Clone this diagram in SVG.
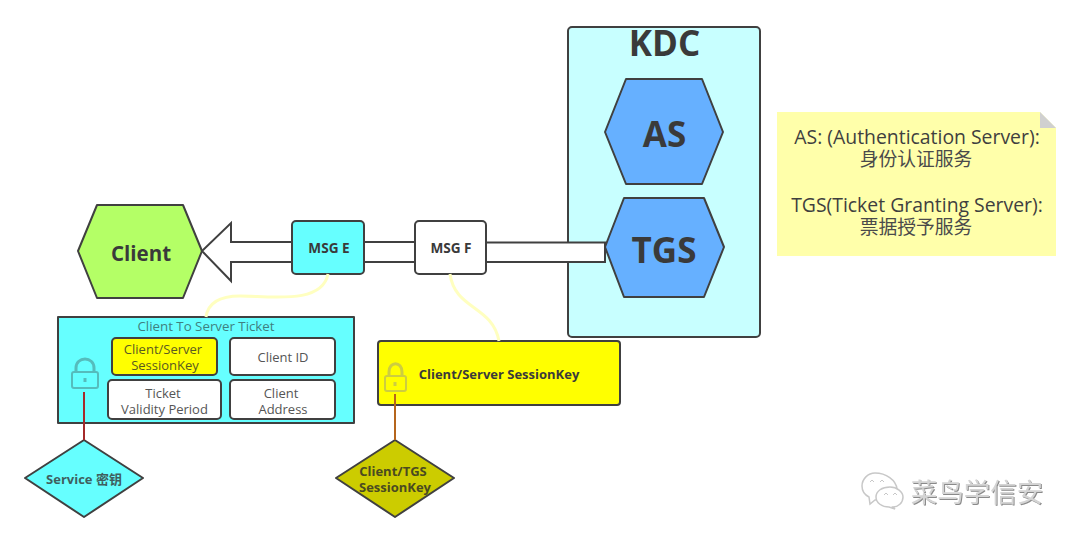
<svg xmlns="http://www.w3.org/2000/svg" width="1080" height="541" viewBox="0 0 1080 541">
<defs>
<filter id="emboss" x="-5%" y="-10%" width="110%" height="125%"><feDropShadow dx="1" dy="1" stdDeviation="0.4" flood-color="#8a8a8a"/></filter>
</defs>
<style>
text{font-family:"Open Sans","Noto Sans CJK SC",sans-serif;fill:#3a3a3a;text-anchor:middle}
.cjk{font-family:"Noto Sans CJK SC",sans-serif}
.s{stroke:#404040;stroke-width:2;stroke-linejoin:round}
.sm{font-size:13px;fill:#555}
.m{font-size:13px;font-weight:700}
.msg{font-size:13.6px;font-weight:700}
.big{font-size:35px;font-weight:700}
.note{font-size:19.4px;fill:#3f3f3f}
.notec{font-size:18.8px;fill:#4a4a4a}
.lock{fill:none;stroke-width:2}
.wm{fill:#d4d4d4;font-size:26.5px;font-family:"Noto Sans CJK SC",sans-serif}
.bub{fill:#fff;stroke:#c8c8c8;stroke-width:1.5}
.curve{fill:none;stroke:#ffffc0;stroke-width:3}
.arrow{fill:#fff;stroke:#404040;stroke-width:2;stroke-linejoin:miter}
</style>
<rect width="1080" height="541" fill="#fff"/>
<g id="kdc">
<rect class="s" x="568" y="27" width="192" height="310" rx="4" fill="#c8ffff"/>
<text class="big" x="664.500" y="56">KDC</text>
</g>
<g id="as">
<polygon class="s" points="605,132 626,79 702,79 723,132 702,184 626,184" fill="#66b0ff"/>
<text class="big" x="664.500" y="147">AS</text>
</g>
<g id="tgs">
<polygon class="s" points="605,247 624,198 704,198 724,247 704,297 624,297" fill="#66b0ff"/>
<text class="big" x="664" y="263">TGS</text>
</g>
<g id="client">
<polygon class="s" points="78,251 97,205 183,205 202,251 183,298 97,298" fill="#b4ff66"/>
<text x="141" y="261" style="font-size:20.500px;font-weight:700">Client</text>
</g>
<g id="msg-e">
<rect class="s" x="292" y="221" width="72" height="53" rx="4" fill="#66ffff"/>
<text class="msg" x="329" y="253">MSG E</text>
</g>
<g id="msg-f">
<rect class="s" x="415" y="221" width="71" height="53" rx="4" fill="#fff"/>
<text class="msg" x="451" y="253">MSG F</text>
</g>
<g id="ticket">
<rect class="s" x="58" y="317" width="296" height="106" fill="#66ffff"/>
<text x="206" y="331" style="font-size:13.300px;fill:#3f7f80">Client To Server Ticket</text>
<g class="lock" stroke="#55bcbc">
<rect x="72" y="372" width="26" height="16" rx="2"/>
<path d="M76,372V368C76,356 94,356 94,368V372" stroke-width="3"/>
<path d="M85,378v4" stroke-width="3"/>
</g>
<rect class="s" x="112" y="338" width="105" height="37" rx="4" fill="#ffff00"/>
<text class="sm" x="163" y="354" style="fill:#5a5a20">Client/Server</text>
<text class="sm" x="165" y="370" style="fill:#5a5a20">SessionKey</text>
<rect class="s" x="230" y="338" width="105" height="37" rx="4" fill="#fff"/>
<text class="sm" x="283" y="362">Client ID</text>
<rect class="s" x="108" y="380" width="113" height="39" rx="4" fill="#fff"/>
<text class="sm" x="163" y="398">Ticket</text>
<text class="sm" x="164.500" y="414">Validity Period</text>
<rect class="s" x="230" y="380" width="105" height="39" rx="4" fill="#fff"/>
<text class="sm" x="281" y="398">Client</text>
<text class="sm" x="283" y="414">Address</text>
</g>
<g id="session-key">
<rect class="s" x="378" y="341" width="242" height="64" rx="3" fill="#ffff00"/>
<g class="lock" stroke="#cdcd40">
<rect x="385" y="376" width="21" height="15" rx="2"/>
<path d="M389,376V372C389,361 402,361 402,372V376" stroke-width="3"/>
<path d="M395,382v4" stroke-width="3"/>
</g>
<text class="m" x="499" y="379">Client/Server SessionKey</text>
</g>
<g id="service-key">
<polygon class="s" points="25,478 84,440 143,478 84,517" fill="#66ffff"/>
<text x="84" y="484" style="font-size:13px;font-weight:700;fill:#3f5f60">Service 密钥</text>
</g>
<g id="tgs-key">
<polygon class="s" points="336,478 395,440 454,478 395,517" fill="#cccc00"/>
<text class="m" x="393" y="476" style="fill:#4a4a20">Client/TGS</text>
<text class="m" x="395" y="492" style="fill:#4a4a20">SessionKey</text>
</g>
<g id="connectors" fill="none">
<path class="arrow" d="M291,242H231V223L202,251L231,281V262H291"/>
<path class="arrow" d="M365,242H414M365,262H414"/>
<path class="arrow" d="M487,242.500H605V262H487"/>
<path class="curve" d="M328,274C322,305 270,296 240,296C220,296 208,303 206,317"/>
<path class="curve" d="M450,274C455,310 492,305 499,341"/>
<path d="M84,392V440" stroke="#a52a2a" stroke-width="2"/>
<path d="M395,394V440" stroke="#b5651d" stroke-width="2"/>
</g>
<g id="note">
<polygon points="777,112 1040,112 1056,128 1056,256 777,256" fill="#ffffaa"/>
<polygon points="1040,112 1056,128 1040,128" fill="#d0d0d0"/>
<text class="note" x="917" y="144">AS: (Authentication Server):</text>
<text class="notec cjk" x="916" y="166">身份认证服务</text>
<text class="note" x="917" y="212">TGS(Ticket Granting Server):</text>
<text class="notec cjk" x="916" y="234">票据授予服务</text>
</g>
<g id="watermark">
<path class="bub" d="M875,473c-7,0-13,6-13,13c0,5 3,9 7,11l1,7l5,-4c3,0 5,0 8,-1c3,-6 8,-10 14,-10c-1,-9 -11,-16 -22,-16z"/>
<path class="bub" d="M890,487c7,0 13,5 13,10c0,6 -5,10 -10,10l2,2l-6,-2c-7,0 -13,-4 -13,-10c0,-6 6,-10 14,-10z"/>
<path d="M870,482l2,-2l2,2M880,482l2,-2l2,2M884,495l2,-2l2,2M893,495l2,-2l2,2" fill="none" stroke="#c8c8c8"/>
<text class="wm" x="977" y="502" filter="url(#emboss)">菜鸟学信安</text>
</g>
</svg>
